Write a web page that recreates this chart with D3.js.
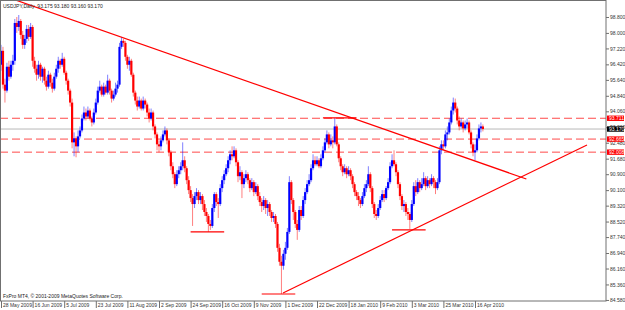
<!DOCTYPE html>
<html><head><meta charset="utf-8">
<script src="https://cdn.jsdelivr.net/npm/d3@7"></script>
<style>body{margin:0;background:#fff;}svg{display:block;font-family:"Liberation Sans",Arial,sans-serif;}</style>
</head><body><svg id="c" width="625" height="310"></svg>
<script>
const opens=[96.4,97.1,95.4,95.1,96.3,95.8,96.4,96.6,98.5,98.3,
98.6,97.9,97.4,97.7,98.2,97.8,98.3,96.6,96.2,95.9,
96.4,95.8,96.2,95.6,95.3,95.9,95.5,95.2,95.8,96.2,
96.6,96.4,96.7,96.0,95.6,95.1,94.5,92.5,92.7,92.3,
92.8,93.1,93.7,94.0,93.8,94.1,93.7,93.5,94.0,94.5,
95.1,95.3,94.9,95.3,95.0,95.6,95.1,94.7,94.9,95.2,
95.4,97.3,97.6,97.5,96.8,96.4,96.6,95.9,95.0,94.6,
94.3,94.6,94.2,94.6,94.4,94.0,93.7,94.0,93.3,92.9,
92.4,92.3,92.6,92.9,93.1,92.6,92.0,91.3,90.9,90.4,
90.9,91.1,91.3,91.6,91.2,90.6,90.1,89.7,89.4,89.8,
90.0,89.6,89.8,89.4,89.0,88.8,88.4,88.3,89.2,89.9,
89.5,89.4,90.2,90.6,90.9,91.2,91.6,91.9,91.8,92.1,
91.5,90.8,91.0,90.4,90.7,90.9,90.6,90.2,90.5,90.0,
90.3,89.8,89.5,89.3,89.6,89.2,89.4,89.0,88.7,88.8,
88.4,87.2,86.5,86.3,86.9,87.2,88.0,90.5,89.6,89.0,
88.4,88.1,89.1,88.8,89.6,90.0,90.4,90.6,91.2,91.6,
91.4,91.6,91.3,91.7,92.1,92.5,92.9,92.4,92.6,92.5,
93.3,92.4,91.7,91.3,91.0,91.2,90.9,91.1,90.8,90.4,
90.0,89.8,89.6,89.4,89.8,90.2,90.4,90.9,90.2,89.4,
88.9,88.8,89.2,89.6,89.9,89.7,90.2,90.5,91.3,91.6,
91.4,91.0,90.4,89.8,89.3,89.4,89.0,88.9,88.6,89.4,
90.3,90.0,90.5,90.2,90.4,90.7,90.3,90.6,90.4,90.7,
90.5,90.2,90.5,92.1,92.4,92.3,92.9,93.0,93.5,94.1,
94.5,94.2,93.6,93.3,93.5,93.2,93.4,93.5,93.0,92.4,
92.0,92.1,92.7,93.2,93.3];
const closes=[97.1,95.4,95.1,96.3,95.8,96.4,96.6,98.5,98.3,98.6,
97.9,97.4,97.7,98.2,97.8,98.3,96.6,96.2,95.9,96.4,
95.8,96.2,95.6,95.3,95.9,95.5,95.2,95.8,96.2,96.6,
96.4,96.7,96.0,95.6,95.1,94.5,92.5,92.7,92.3,92.8,
93.1,93.7,94.0,93.8,94.1,93.7,93.5,94.0,94.5,95.1,
95.3,94.9,95.3,95.0,95.6,95.1,94.7,94.9,95.2,95.4,
97.3,97.6,97.5,96.8,96.4,96.6,95.9,95.0,94.6,94.3,
94.6,94.2,94.6,94.4,94.0,93.7,94.0,93.3,92.9,92.4,
92.3,92.6,92.9,93.1,92.6,92.0,91.3,90.9,90.4,90.9,
91.1,91.3,91.6,91.2,90.6,90.1,89.7,89.4,89.8,90.0,
89.6,89.8,89.4,89.0,88.8,88.4,88.3,89.2,89.9,89.5,
89.4,90.2,90.6,90.9,91.2,91.6,91.9,91.8,92.1,91.5,
90.8,91.0,90.4,90.7,90.9,90.6,90.2,90.5,90.0,90.3,
89.8,89.5,89.3,89.6,89.2,89.4,89.0,88.7,88.8,88.4,
87.2,86.5,86.3,86.9,87.2,88.0,90.5,89.6,89.0,88.4,
88.1,89.1,88.8,89.6,90.0,90.4,90.6,91.2,91.6,91.4,
91.6,91.3,91.7,92.1,92.5,92.9,92.4,92.6,92.5,93.3,
92.4,91.7,91.3,91.0,91.2,90.9,91.1,90.8,90.4,90.0,
89.8,89.6,89.4,89.8,90.2,90.4,90.9,90.2,89.4,88.9,
88.8,89.2,89.6,89.9,89.7,90.2,90.5,91.3,91.6,91.4,
91.0,90.4,89.8,89.3,89.4,89.0,88.9,88.6,89.4,90.3,
90.0,90.5,90.2,90.4,90.7,90.3,90.6,90.4,90.7,90.5,
90.2,90.5,92.1,92.4,92.3,92.9,93.0,93.5,94.1,94.5,
94.2,93.6,93.3,93.5,93.2,93.4,93.5,93.0,92.4,92.0,
92.1,92.7,93.2,93.3,93.17];
const highs=[97.4,97.3,95.7,96.5,96.6,96.6,96.9,98.7,98.8,98.9,
98.7,98.1,97.9,98.4,98.4,98.5,98.4,96.8,96.4,96.6,
96.5,96.3,96.3,95.8,96.1,96.0,95.7,96.0,96.4,96.8,
96.7,97.0,96.8,96.1,95.7,95.2,94.7,93.0,92.8,93.1,
93.3,93.9,94.3,94.2,94.3,94.2,93.8,94.2,94.7,95.3,
95.6,95.4,95.5,95.4,95.9,95.7,95.2,95.1,95.5,95.6,
97.5,97.8,97.7,97.6,96.9,96.8,96.7,96.0,95.1,94.8,
94.8,94.7,94.8,94.7,94.5,94.2,94.2,94.1,93.4,93.0,
92.6,92.8,93.1,93.3,93.2,92.7,92.1,91.5,91.0,91.1,
91.3,91.5,92.5,91.8,91.3,90.8,90.3,89.9,90.0,90.2,
90.1,90.0,89.9,89.6,89.2,88.9,88.6,89.4,90.0,90.0,
89.7,90.4,90.8,91.1,91.4,91.8,92.1,92.3,92.3,92.2,
91.6,91.3,91.1,90.9,91.1,91.0,90.7,90.7,90.6,90.5,
90.4,90.0,89.7,89.8,89.7,89.6,89.5,89.1,89.0,88.9,
88.5,87.4,86.8,87.1,87.5,88.2,90.8,90.6,89.7,89.1,
88.6,89.3,89.3,89.8,90.2,90.6,90.9,91.4,91.9,91.8,
91.8,91.7,91.9,92.3,92.7,93.1,93.0,92.9,92.8,93.73,
93.4,92.5,91.8,91.4,91.4,91.3,91.3,91.2,90.9,90.5,
90.1,90.0,89.7,90.0,90.4,90.6,91.3,91.0,90.3,89.5,
89.1,89.4,89.8,90.1,90.1,90.3,90.7,91.5,91.9,92.1,
91.5,91.1,90.5,89.9,89.6,89.5,89.2,89.0,89.6,90.5,
90.6,90.7,90.6,90.7,91.0,90.8,90.8,90.7,90.9,90.8,
90.6,90.7,92.3,92.6,92.6,93.1,93.3,93.7,94.3,94.75,
94.7,94.3,93.8,93.7,93.6,93.6,93.7,93.6,93.1,92.5,
92.4,92.9,93.4,93.5,93.4];
const lows=[96.1,95.2,94.5,95.0,95.6,95.7,96.1,96.4,98.0,98.1,
97.7,97.2,97.2,97.5,97.6,97.7,96.3,96.0,95.6,95.7,
95.6,95.5,95.4,95.1,95.2,95.3,95.0,95.1,95.7,96.0,
96.2,96.3,95.9,95.4,94.9,94.3,92.2,91.8,91.75,92.0,
92.7,93.0,93.6,93.6,93.7,93.6,93.3,93.4,93.9,94.4,
95.0,94.8,94.8,94.9,94.9,94.9,94.5,94.6,94.8,95.0,
95.3,97.2,97.3,96.6,96.2,96.1,95.8,94.8,94.4,94.1,
94.2,94.1,94.1,94.2,93.8,93.5,93.6,93.1,92.7,92.1,
92.0,92.1,92.5,92.8,92.4,91.8,91.1,90.7,90.2,90.3,
90.7,90.9,91.1,91.0,90.4,89.9,89.5,88.3,89.2,89.6,
89.4,89.4,89.1,88.8,88.5,88.0,88.1,88.2,89.0,89.3,
88.7,89.3,90.0,90.4,90.8,91.0,91.4,91.6,91.7,91.3,
90.5,90.6,89.7,90.2,90.5,90.4,90.0,90.1,89.8,89.9,
89.6,89.3,89.0,89.1,88.9,88.8,88.8,88.5,88.5,88.2,
87.0,86.3,84.88,86.1,86.6,87.1,87.9,89.4,88.6,88.2,
87.6,88.0,88.6,88.7,89.4,89.9,90.3,90.5,91.1,91.3,
91.3,91.2,91.2,91.6,92.0,92.4,92.2,92.3,92.2,92.4,
92.3,91.5,91.1,90.8,90.9,90.7,90.8,90.6,90.2,89.8,
89.6,89.3,89.2,89.3,89.7,90.0,90.3,90.0,89.2,88.7,
88.6,88.7,89.1,89.5,89.5,89.6,90.1,90.4,91.2,91.3,
90.8,90.2,89.6,89.1,89.0,88.8,88.6,88.15,88.5,89.3,
89.8,89.9,90.0,90.1,90.3,90.1,90.2,90.2,90.3,90.2,
89.9,90.1,90.4,91.9,92.1,92.2,92.6,92.9,93.4,93.9,
94.0,93.4,93.1,93.2,93.0,93.1,93.2,92.9,92.2,91.8,
91.6,92.0,92.6,93.0,93.05];

const dateLabels=["28 May 2009","16 Jun 2009","5 Jul 2009","23 Jul 2009","11 Aug 2009","2 Sep 2009","24 Sep 2009","16 Oct 2009","9 Nov 2009","1 Dec 2009","22 Dec 2009","18 Jan 2010","9 Feb 2010","3 Mar 2010","25 Mar 2010","16 Apr 2010"];
const dateLabelIdx=[0,16,32,48,64,80,96,112,128,144,160,176,192,208,224,240];
const priceTicks=[98.8,98.0,97.22,96.42,95.64,94.84,94.06,93.26,92.48,91.68,90.9,90.1,89.32,88.52,87.74,86.94,86.16,85.36,84.58];
const dashedLevels=[93.711,92.665,92.008];
const bidPrice=93.17;
const trendDown=[[6,99.7],[266,90.66]];
const trendUp=[[142.8,84.93],[296.7,92.37]];
const hSegments=[[96,113,88.0],[132,149,84.88],[163,180,93.73],[198,215,88.1]];
const headerText="USDJPY,Daily  93.175 93.180 93.160 93.170";
const footerText="FxPro MT4, \u00A9 2001-2009 MetaQuotes Software Corp.";

const W=606,H=301;
const svg=d3.select("#c");
const x=d3.scaleLinear().domain([0,306]).range([1,605.35]);
const y=d3.scaleLinear().domain([84.528,99.654]).range([301,0]);

svg.append("defs").append("clipPath").attr("id","plot").append("rect").attr("x",0).attr("y",0).attr("width",W).attr("height",H);
const g=svg.append("g").attr("clip-path","url(#plot)");

g.selectAll("line.lvl").data(dashedLevels).enter().append("line")
 .attr("x1",0).attr("x2",W).attr("y1",d=>y(d)).attr("y2",d=>y(d))
 .attr("stroke","#ff4a4a").attr("stroke-width",1).attr("stroke-dasharray","8,4");
g.append("line").attr("x1",0).attr("x2",W).attr("y1",y(bidPrice)).attr("y2",y(bidPrice))
 .attr("stroke","#b8b8b8").attr("stroke-width",1);

const data=closes.map((c,i)=>({i,o:opens[i],c,h:highs[i],l:lows[i]}));
const col=d=>d.c>=d.o?"#0000ff":"#ff0000";
g.selectAll("line.wick").data(data).enter().append("line")
 .attr("x1",d=>x(d.i)).attr("x2",d=>x(d.i))
 .attr("y1",d=>y(Math.max(d.h,d.o,d.c))).attr("y2",d=>y(Math.min(d.l,d.o,d.c)))
 .attr("stroke",col).attr("stroke-opacity",0.5).attr("stroke-width",1);
g.selectAll("rect.body").data(data).enter().append("rect")
 .attr("x",d=>x(d.i)-1.1).attr("width",2.2)
 .attr("y",d=>y(Math.max(d.o,d.c)))
 .attr("height",d=>Math.max(0.8,y(Math.min(d.o,d.c))-y(Math.max(d.o,d.c))))
 .attr("fill",col);

[trendDown,trendUp].forEach(t=>{
 g.append("line").attr("x1",x(t[0][0])).attr("y1",y(t[0][1])).attr("x2",x(t[1][0])).attr("y2",y(t[1][1]))
  .attr("stroke","#ff0000").attr("stroke-width",1.2);
});
g.selectAll("line.seg").data(hSegments).enter().append("line")
 .attr("x1",d=>x(d[0])).attr("x2",d=>x(d[1])).attr("y1",d=>y(d[2])).attr("y2",d=>y(d[2]))
 .attr("stroke","#ff0000").attr("stroke-width",1.2);

svg.append("rect").attr("x",0.5).attr("y",0.5).attr("width",W-0.5).attr("height",H-0.5)
 .attr("fill","none").attr("stroke","#707070").attr("stroke-width",1);

const ya=svg.append("g").attr("transform",`translate(${W},0)`)
 .call(d3.axisRight(y).tickValues(priceTicks).tickSize(3).tickPadding(1).tickFormat(d3.format(".3f")));
ya.select(".domain").remove();
ya.selectAll("line").attr("stroke","#707070");
ya.selectAll("text").attr("font-size","5px").attr("fill","#333").attr("font-family","Liberation Sans, Arial, sans-serif");

const xa=svg.append("g").attr("transform",`translate(0,${H})`)
 .call(d3.axisBottom(x).tickValues(dateLabelIdx).tickSize(7).tickFormat((d,k)=>dateLabels[k]));
xa.select(".domain").remove();
xa.selectAll("line").attr("stroke","#707070");
xa.selectAll("text").attr("text-anchor","start").attr("dx","1.5").attr("y",2.2)
 .attr("font-size","5px").attr("fill","#333").attr("font-family","Liberation Sans, Arial, sans-serif");

const tags=dashedLevels.map(p=>({p,bg:"#ff0000"})).concat([{p:bidPrice,bg:"#000000"}]);
const tg=svg.selectAll("g.tag").data(tags).enter().append("g");
tg.append("rect").attr("x",607).attr("y",d=>y(d.p)-2.7).attr("width",17).attr("height",5.4).attr("fill",d=>d.bg);
tg.append("text").attr("x",609).attr("y",d=>y(d.p)+1.8).text(d=>d3.format(".3f")(d.p))
 .attr("font-size","5px").attr("fill","#fff");

svg.append("text").attr("x",3).attr("y",7.5).text(headerText).attr("font-size","5px").attr("fill","#222").style("white-space","pre");
svg.append("text").attr("x",3).attr("y",297.5).text(footerText).attr("font-size","5px").attr("fill","#222");
</script></body></html>
